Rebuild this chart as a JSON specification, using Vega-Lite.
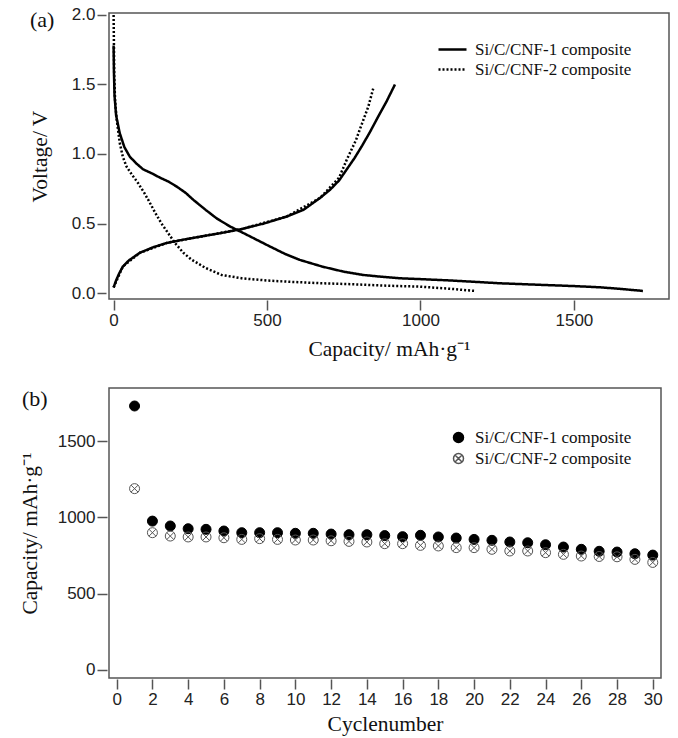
{
  "$schema": "https://vega.github.io/schema/vega-lite/v6.json",
  "background": "white",
  "padding": {"left": 18, "top": 5, "right": 5, "bottom": 5},
  "spacing": 26,
  "resolve": {"legend": {"strokeDash": "independent", "shape": "independent", "fill": "independent", "stroke": "independent"}, "scale": {"strokeDash": "independent", "shape": "independent", "fill": "independent", "stroke": "independent"}},
  "config": {
    "view": {"stroke": "#555", "strokeWidth": 1.5},
    "axis": {"labelFont": "Liberation Sans", "labelFontSize": 17, "labelColor": "#222", "titleFont": "Liberation Serif", "titleFontSize": 21.5, "titleFontWeight": "normal", "titleColor": "#111", "tickColor": "#555", "tickWidth": 1.5, "tickSize": 10, "domain": false, "grid": false},
    "legend": {"labelFont": "Liberation Serif", "labelFontSize": 17, "labelColor": "#111"},
    "title": {"font": "Liberation Serif", "fontSize": 22, "fontWeight": "normal", "color": "#111"}
  },
  "vconcat": [
    {
      "width": 560,
      "height": 286,
      "title": {"text": "(a)", "anchor": "start", "frame": "group", "dx": -79, "dy": 30},
      "data": {"values": [
        {"s": "Si/C/CNF-1 composite", "seg": "d1", "cap": 0, "v": 1.78},
        {"s": "Si/C/CNF-1 composite", "seg": "d1", "cap": 1, "v": 1.6},
        {"s": "Si/C/CNF-1 composite", "seg": "d1", "cap": 3, "v": 1.42},
        {"s": "Si/C/CNF-1 composite", "seg": "d1", "cap": 8, "v": 1.28},
        {"s": "Si/C/CNF-1 composite", "seg": "d1", "cap": 20, "v": 1.15},
        {"s": "Si/C/CNF-1 composite", "seg": "d1", "cap": 35, "v": 1.05},
        {"s": "Si/C/CNF-1 composite", "seg": "d1", "cap": 53, "v": 0.98},
        {"s": "Si/C/CNF-1 composite", "seg": "d1", "cap": 75, "v": 0.93},
        {"s": "Si/C/CNF-1 composite", "seg": "d1", "cap": 96, "v": 0.89},
        {"s": "Si/C/CNF-1 composite", "seg": "d1", "cap": 125, "v": 0.86},
        {"s": "Si/C/CNF-1 composite", "seg": "d1", "cap": 151, "v": 0.83},
        {"s": "Si/C/CNF-1 composite", "seg": "d1", "cap": 180, "v": 0.8},
        {"s": "Si/C/CNF-1 composite", "seg": "d1", "cap": 206, "v": 0.765},
        {"s": "Si/C/CNF-1 composite", "seg": "d1", "cap": 235, "v": 0.72},
        {"s": "Si/C/CNF-1 composite", "seg": "d1", "cap": 260, "v": 0.67},
        {"s": "Si/C/CNF-1 composite", "seg": "d1", "cap": 300, "v": 0.598},
        {"s": "Si/C/CNF-1 composite", "seg": "d1", "cap": 337, "v": 0.535},
        {"s": "Si/C/CNF-1 composite", "seg": "d1", "cap": 380, "v": 0.478},
        {"s": "Si/C/CNF-1 composite", "seg": "d1", "cap": 417, "v": 0.438},
        {"s": "Si/C/CNF-1 composite", "seg": "d1", "cap": 460, "v": 0.39},
        {"s": "Si/C/CNF-1 composite", "seg": "d1", "cap": 510, "v": 0.334},
        {"s": "Si/C/CNF-1 composite", "seg": "d1", "cap": 560, "v": 0.28},
        {"s": "Si/C/CNF-1 composite", "seg": "d1", "cap": 607, "v": 0.238},
        {"s": "Si/C/CNF-1 composite", "seg": "d1", "cap": 680, "v": 0.19},
        {"s": "Si/C/CNF-1 composite", "seg": "d1", "cap": 749, "v": 0.154},
        {"s": "Si/C/CNF-1 composite", "seg": "d1", "cap": 813, "v": 0.13},
        {"s": "Si/C/CNF-1 composite", "seg": "d1", "cap": 868, "v": 0.118},
        {"s": "Si/C/CNF-1 composite", "seg": "d1", "cap": 934, "v": 0.106},
        {"s": "Si/C/CNF-1 composite", "seg": "d1", "cap": 1000, "v": 0.1},
        {"s": "Si/C/CNF-1 composite", "seg": "d1", "cap": 1100, "v": 0.09},
        {"s": "Si/C/CNF-1 composite", "seg": "d1", "cap": 1260, "v": 0.07},
        {"s": "Si/C/CNF-1 composite", "seg": "d1", "cap": 1400, "v": 0.058},
        {"s": "Si/C/CNF-1 composite", "seg": "d1", "cap": 1500, "v": 0.05},
        {"s": "Si/C/CNF-1 composite", "seg": "d1", "cap": 1586, "v": 0.041},
        {"s": "Si/C/CNF-1 composite", "seg": "d1", "cap": 1650, "v": 0.03},
        {"s": "Si/C/CNF-1 composite", "seg": "d1", "cap": 1725, "v": 0.015},
        {"s": "Si/C/CNF-1 composite", "seg": "c1", "cap": 0, "v": 0.04},
        {"s": "Si/C/CNF-1 composite", "seg": "c1", "cap": 8, "v": 0.09},
        {"s": "Si/C/CNF-1 composite", "seg": "c1", "cap": 18, "v": 0.14},
        {"s": "Si/C/CNF-1 composite", "seg": "c1", "cap": 30, "v": 0.19},
        {"s": "Si/C/CNF-1 composite", "seg": "c1", "cap": 50, "v": 0.235},
        {"s": "Si/C/CNF-1 composite", "seg": "c1", "cap": 86, "v": 0.29},
        {"s": "Si/C/CNF-1 composite", "seg": "c1", "cap": 130, "v": 0.33},
        {"s": "Si/C/CNF-1 composite", "seg": "c1", "cap": 173, "v": 0.36},
        {"s": "Si/C/CNF-1 composite", "seg": "c1", "cap": 230, "v": 0.385},
        {"s": "Si/C/CNF-1 composite", "seg": "c1", "cap": 281, "v": 0.405},
        {"s": "Si/C/CNF-1 composite", "seg": "c1", "cap": 347, "v": 0.43},
        {"s": "Si/C/CNF-1 composite", "seg": "c1", "cap": 417, "v": 0.46},
        {"s": "Si/C/CNF-1 composite", "seg": "c1", "cap": 490, "v": 0.5},
        {"s": "Si/C/CNF-1 composite", "seg": "c1", "cap": 564, "v": 0.55},
        {"s": "Si/C/CNF-1 composite", "seg": "c1", "cap": 620, "v": 0.6},
        {"s": "Si/C/CNF-1 composite", "seg": "c1", "cap": 673, "v": 0.684},
        {"s": "Si/C/CNF-1 composite", "seg": "c1", "cap": 706, "v": 0.744},
        {"s": "Si/C/CNF-1 composite", "seg": "c1", "cap": 735, "v": 0.81},
        {"s": "Si/C/CNF-1 composite", "seg": "c1", "cap": 760, "v": 0.89},
        {"s": "Si/C/CNF-1 composite", "seg": "c1", "cap": 785, "v": 0.97},
        {"s": "Si/C/CNF-1 composite", "seg": "c1", "cap": 810, "v": 1.06},
        {"s": "Si/C/CNF-1 composite", "seg": "c1", "cap": 836, "v": 1.16},
        {"s": "Si/C/CNF-1 composite", "seg": "c1", "cap": 865, "v": 1.28},
        {"s": "Si/C/CNF-1 composite", "seg": "c1", "cap": 890, "v": 1.38},
        {"s": "Si/C/CNF-1 composite", "seg": "c1", "cap": 917, "v": 1.5},
        {"s": "Si/C/CNF-2 composite", "seg": "d2", "cap": 0, "v": 2.0},
        {"s": "Si/C/CNF-2 composite", "seg": "d2", "cap": 1, "v": 1.8},
        {"s": "Si/C/CNF-2 composite", "seg": "d2", "cap": 2, "v": 1.56},
        {"s": "Si/C/CNF-2 composite", "seg": "d2", "cap": 5, "v": 1.38},
        {"s": "Si/C/CNF-2 composite", "seg": "d2", "cap": 10, "v": 1.25},
        {"s": "Si/C/CNF-2 composite", "seg": "d2", "cap": 20, "v": 1.08},
        {"s": "Si/C/CNF-2 composite", "seg": "d2", "cap": 30, "v": 0.98},
        {"s": "Si/C/CNF-2 composite", "seg": "d2", "cap": 42, "v": 0.91},
        {"s": "Si/C/CNF-2 composite", "seg": "d2", "cap": 60, "v": 0.85},
        {"s": "Si/C/CNF-2 composite", "seg": "d2", "cap": 80, "v": 0.79},
        {"s": "Si/C/CNF-2 composite", "seg": "d2", "cap": 100, "v": 0.72},
        {"s": "Si/C/CNF-2 composite", "seg": "d2", "cap": 113, "v": 0.67},
        {"s": "Si/C/CNF-2 composite", "seg": "d2", "cap": 135, "v": 0.58},
        {"s": "Si/C/CNF-2 composite", "seg": "d2", "cap": 156, "v": 0.5},
        {"s": "Si/C/CNF-2 composite", "seg": "d2", "cap": 178, "v": 0.43},
        {"s": "Si/C/CNF-2 composite", "seg": "d2", "cap": 200, "v": 0.36},
        {"s": "Si/C/CNF-2 composite", "seg": "d2", "cap": 227, "v": 0.29},
        {"s": "Si/C/CNF-2 composite", "seg": "d2", "cap": 254, "v": 0.24},
        {"s": "Si/C/CNF-2 composite", "seg": "d2", "cap": 300, "v": 0.18},
        {"s": "Si/C/CNF-2 composite", "seg": "d2", "cap": 352, "v": 0.13},
        {"s": "Si/C/CNF-2 composite", "seg": "d2", "cap": 420, "v": 0.105},
        {"s": "Si/C/CNF-2 composite", "seg": "d2", "cap": 500, "v": 0.09},
        {"s": "Si/C/CNF-2 composite", "seg": "d2", "cap": 564, "v": 0.082},
        {"s": "Si/C/CNF-2 composite", "seg": "d2", "cap": 680, "v": 0.07},
        {"s": "Si/C/CNF-2 composite", "seg": "d2", "cap": 781, "v": 0.063},
        {"s": "Si/C/CNF-2 composite", "seg": "d2", "cap": 900, "v": 0.052},
        {"s": "Si/C/CNF-2 composite", "seg": "d2", "cap": 999, "v": 0.046},
        {"s": "Si/C/CNF-2 composite", "seg": "d2", "cap": 1100, "v": 0.03},
        {"s": "Si/C/CNF-2 composite", "seg": "d2", "cap": 1178, "v": 0.015},
        {"s": "Si/C/CNF-2 composite", "seg": "c2", "cap": 0, "v": 0.04},
        {"s": "Si/C/CNF-2 composite", "seg": "c2", "cap": 30, "v": 0.19},
        {"s": "Si/C/CNF-2 composite", "seg": "c2", "cap": 86, "v": 0.29},
        {"s": "Si/C/CNF-2 composite", "seg": "c2", "cap": 173, "v": 0.36},
        {"s": "Si/C/CNF-2 composite", "seg": "c2", "cap": 281, "v": 0.405},
        {"s": "Si/C/CNF-2 composite", "seg": "c2", "cap": 417, "v": 0.46},
        {"s": "Si/C/CNF-2 composite", "seg": "c2", "cap": 564, "v": 0.55},
        {"s": "Si/C/CNF-2 composite", "seg": "c2", "cap": 673, "v": 0.684},
        {"s": "Si/C/CNF-2 composite", "seg": "c2", "cap": 735, "v": 0.83},
        {"s": "Si/C/CNF-2 composite", "seg": "c2", "cap": 760, "v": 0.96},
        {"s": "Si/C/CNF-2 composite", "seg": "c2", "cap": 790, "v": 1.1},
        {"s": "Si/C/CNF-2 composite", "seg": "c2", "cap": 803, "v": 1.18},
        {"s": "Si/C/CNF-2 composite", "seg": "c2", "cap": 830, "v": 1.34},
        {"s": "Si/C/CNF-2 composite", "seg": "c2", "cap": 846, "v": 1.47}
      ]},
      "mark": {"type": "line", "strokeWidth": 2.5, "color": "black"},
      "encoding": {
        "x": {"field": "cap", "type": "quantitative", "scale": {"domain": [-15, 1810], "nice": false, "zero": false}, "axis": {"values": [0, 500, 1000, 1500], "format": "d", "title": "Capacity/ mAh·g⁻¹", "offset": 1, "labelPadding": 2, "titlePadding": 10}},
        "y": {"field": "v", "type": "quantitative", "scale": {"domain": [-0.043, 2.014], "nice": false, "zero": false}, "axis": {"values": [0, 0.5, 1, 1.5, 2], "format": ".1f", "title": "Voltage/ V", "offset": 3, "tickSize": 9, "labelPadding": 2, "titlePadding": 20}},
        "detail": {"field": "seg", "type": "nominal"},
        "strokeDash": {"field": "s", "type": "nominal", "scale": {"domain": ["Si/C/CNF-1 composite", "Si/C/CNF-2 composite"], "range": [[1, 0], [2, 2]]}, "legend": {"title": null, "orient": "none", "legendX": 332, "legendY": 25, "symbolType": "M-1.4,0H1.4", "symbolStrokeWidth": 2.5, "symbolStrokeColor": "black", "symbolFillColor": "transparent", "symbolSize": 400, "rowPadding": -1, "labelOffset": 11}}
      }
    },
    {
      "width": 552,
      "height": 290,
      "title": {"text": "(b)", "anchor": "start", "frame": "group", "dx": -87, "dy": 27},
      "data": {"values": [
        {"cycle": 1, "cap": 1730, "series": "Si/C/CNF-1 composite"},
        {"cycle": 2, "cap": 975, "series": "Si/C/CNF-1 composite"},
        {"cycle": 3, "cap": 943, "series": "Si/C/CNF-1 composite"},
        {"cycle": 4, "cap": 925, "series": "Si/C/CNF-1 composite"},
        {"cycle": 5, "cap": 921, "series": "Si/C/CNF-1 composite"},
        {"cycle": 6, "cap": 910, "series": "Si/C/CNF-1 composite"},
        {"cycle": 7, "cap": 899, "series": "Si/C/CNF-1 composite"},
        {"cycle": 8, "cap": 899, "series": "Si/C/CNF-1 composite"},
        {"cycle": 9, "cap": 899, "series": "Si/C/CNF-1 composite"},
        {"cycle": 10, "cap": 895, "series": "Si/C/CNF-1 composite"},
        {"cycle": 11, "cap": 895, "series": "Si/C/CNF-1 composite"},
        {"cycle": 12, "cap": 890, "series": "Si/C/CNF-1 composite"},
        {"cycle": 13, "cap": 886, "series": "Si/C/CNF-1 composite"},
        {"cycle": 14, "cap": 886, "series": "Si/C/CNF-1 composite"},
        {"cycle": 15, "cap": 880, "series": "Si/C/CNF-1 composite"},
        {"cycle": 16, "cap": 873, "series": "Si/C/CNF-1 composite"},
        {"cycle": 17, "cap": 882, "series": "Si/C/CNF-1 composite"},
        {"cycle": 18, "cap": 871, "series": "Si/C/CNF-1 composite"},
        {"cycle": 19, "cap": 864, "series": "Si/C/CNF-1 composite"},
        {"cycle": 20, "cap": 855, "series": "Si/C/CNF-1 composite"},
        {"cycle": 21, "cap": 849, "series": "Si/C/CNF-1 composite"},
        {"cycle": 22, "cap": 838, "series": "Si/C/CNF-1 composite"},
        {"cycle": 23, "cap": 833, "series": "Si/C/CNF-1 composite"},
        {"cycle": 24, "cap": 820, "series": "Si/C/CNF-1 composite"},
        {"cycle": 25, "cap": 805, "series": "Si/C/CNF-1 composite"},
        {"cycle": 26, "cap": 790, "series": "Si/C/CNF-1 composite"},
        {"cycle": 27, "cap": 777, "series": "Si/C/CNF-1 composite"},
        {"cycle": 28, "cap": 772, "series": "Si/C/CNF-1 composite"},
        {"cycle": 29, "cap": 761, "series": "Si/C/CNF-1 composite"},
        {"cycle": 30, "cap": 752, "series": "Si/C/CNF-1 composite"},
        {"cycle": 1, "cap": 1188, "series": "Si/C/CNF-2 composite"},
        {"cycle": 2, "cap": 899, "series": "Si/C/CNF-2 composite"},
        {"cycle": 3, "cap": 877, "series": "Si/C/CNF-2 composite"},
        {"cycle": 4, "cap": 871, "series": "Si/C/CNF-2 composite"},
        {"cycle": 5, "cap": 871, "series": "Si/C/CNF-2 composite"},
        {"cycle": 6, "cap": 866, "series": "Si/C/CNF-2 composite"},
        {"cycle": 7, "cap": 855, "series": "Si/C/CNF-2 composite"},
        {"cycle": 8, "cap": 860, "series": "Si/C/CNF-2 composite"},
        {"cycle": 9, "cap": 855, "series": "Si/C/CNF-2 composite"},
        {"cycle": 10, "cap": 851, "series": "Si/C/CNF-2 composite"},
        {"cycle": 11, "cap": 851, "series": "Si/C/CNF-2 composite"},
        {"cycle": 12, "cap": 846, "series": "Si/C/CNF-2 composite"},
        {"cycle": 13, "cap": 842, "series": "Si/C/CNF-2 composite"},
        {"cycle": 14, "cap": 838, "series": "Si/C/CNF-2 composite"},
        {"cycle": 15, "cap": 827, "series": "Si/C/CNF-2 composite"},
        {"cycle": 16, "cap": 827, "series": "Si/C/CNF-2 composite"},
        {"cycle": 17, "cap": 816, "series": "Si/C/CNF-2 composite"},
        {"cycle": 18, "cap": 812, "series": "Si/C/CNF-2 composite"},
        {"cycle": 19, "cap": 801, "series": "Si/C/CNF-2 composite"},
        {"cycle": 20, "cap": 801, "series": "Si/C/CNF-2 composite"},
        {"cycle": 21, "cap": 790, "series": "Si/C/CNF-2 composite"},
        {"cycle": 22, "cap": 779, "series": "Si/C/CNF-2 composite"},
        {"cycle": 23, "cap": 779, "series": "Si/C/CNF-2 composite"},
        {"cycle": 24, "cap": 768, "series": "Si/C/CNF-2 composite"},
        {"cycle": 25, "cap": 757, "series": "Si/C/CNF-2 composite"},
        {"cycle": 26, "cap": 746, "series": "Si/C/CNF-2 composite"},
        {"cycle": 27, "cap": 743, "series": "Si/C/CNF-2 composite"},
        {"cycle": 28, "cap": 741, "series": "Si/C/CNF-2 composite"},
        {"cycle": 29, "cap": 724, "series": "Si/C/CNF-2 composite"},
        {"cycle": 30, "cap": 704, "series": "Si/C/CNF-2 composite"}
      ]},
      "mark": {"type": "point", "size": 100, "strokeWidth": 1, "opacity": 1},
      "encoding": {
        "x": {"field": "cycle", "type": "quantitative", "scale": {"domain": [-0.43, 30.46], "nice": false, "zero": false}, "axis": {"values": [0, 2, 4, 6, 8, 10, 12, 14, 16, 18, 20, 22, 24, 26, 28, 30], "title": "Cyclenumber", "offset": 1, "labelPadding": 2, "titlePadding": 6}},
        "y": {"field": "cap", "type": "quantitative", "scale": {"domain": [-54, 1848], "nice": false, "zero": false}, "axis": {"values": [0, 500, 1000, 1500], "format": "d", "title": "Capacity/ mAh·g⁻¹", "offset": 2, "labelPadding": 2, "titlePadding": 16}},
        "shape": {"field": "series", "type": "nominal", "scale": {"domain": ["Si/C/CNF-1 composite", "Si/C/CNF-2 composite"], "range": ["circle", "M-1,0A1,1,0,1,1,1,0A1,1,0,1,1,-1,0ZM-0.7,-0.7L0.7,0.7M-0.7,0.7L0.7,-0.7"]}, "legend": {"title": null, "orient": "none", "legendX": 341, "legendY": 41, "rowPadding": 3, "labelOffset": 8}},
        "fill": {"field": "series", "type": "nominal", "scale": {"domain": ["Si/C/CNF-1 composite", "Si/C/CNF-2 composite"], "range": ["black", "transparent"]}, "legend": {"title": null, "orient": "none", "legendX": 341, "legendY": 41, "rowPadding": 3, "labelOffset": 8}},
        "stroke": {"field": "series", "type": "nominal", "scale": {"domain": ["Si/C/CNF-1 composite", "Si/C/CNF-2 composite"], "range": ["black", "#555"]}, "legend": {"title": null, "orient": "none", "legendX": 341, "legendY": 41, "rowPadding": 3, "labelOffset": 8}}
      }
    }
  ]
}
